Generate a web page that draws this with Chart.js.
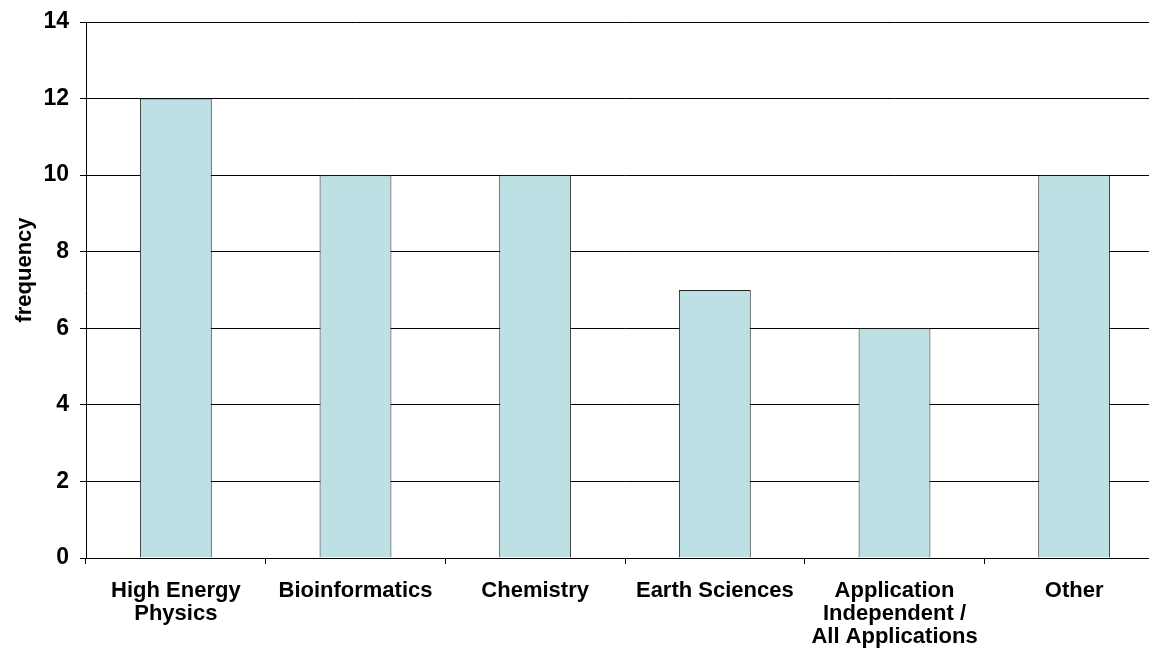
<!DOCTYPE html>
<html>
<head>
<meta charset="utf-8">
<script src="https://cdn.jsdelivr.net/npm/chart.js@4"></script>
<style>
  html, body { margin: 0; padding: 0; background: #fff; overflow: hidden; }
  #wrap { width: 1149px; height: 655px; overflow: hidden; }
</style>
</head>
<body>
<div id="wrap"><canvas id="chart" width="1180" height="655"></canvas></div>
<script>
"use strict";

const categories = [
  ["High Energy", "Physics"],
  "Bioinformatics",
  "Chemistry",
  "Earth Sciences",
  ["Application", "Independent /", "All Applications"],
  "Other"
];
const frequency = [12, 10, 10, 7, 6, 10];
const yTicks = [0, 2, 4, 6, 8, 10, 12, 14];
const yTitle = 'frequency';

const fontFamily = 'Liberation Sans, Arial, sans-serif';

// the y title sits a little above the middle of the axis in the original
const yTitlePlugin = {
  id: 'yTitle',
  afterDraw(chart) {
    const c = chart.ctx;
    c.save();
    c.translate(25, 270);
    c.rotate(-Math.PI / 2);
    c.font = 'bold 22px ' + fontFamily;
    c.fillStyle = '#000';
    c.textAlign = 'center';
    c.textBaseline = 'middle';
    c.fillText(yTitle, 0, 0);
    c.restore();
  }
};

const ctx = document.getElementById('chart');

new Chart(ctx, {
  type: 'bar',
  data: {
    labels: categories,
    datasets: [{
      label: yTitle,
      data: frequency,
      backgroundColor: '#BCE0E3',
      borderColor: '#222',
      borderWidth: 1,
      barPercentage: 0.40,
      categoryPercentage: 1.0
    }]
  },
  plugins: [yTitlePlugin],
  options: {
    responsive: false,
    animation: false,
    layout: { padding: { top: 22, right: 16, left: 0, bottom: 0 } },
    plugins: {
      legend: { display: false },
      tooltip: { enabled: false }
    },
    scales: {
      x: {
        offset: true,
        grid: {
          offset: true,
          drawOnChartArea: false,
          drawTicks: true,
          tickLength: 6,
          color: '#000'
        },
        border: { color: '#000', width: 1 },
        ticks: {
          color: '#000',
          font: { family: fontFamily, size: 22, weight: 'bold', lineHeight: 1.05 },
          maxRotation: 0,
          autoSkip: false,
          padding: 15
        },
        afterFit: (scale) => { scale.height = 97; }
      },
      y: {
        min: 0,
        max: 14,
        afterBuildTicks: (scale) => { scale.ticks = yTicks.map(v => ({ value: v })); },
        grid: {
          color: '#000',
          tickLength: 6,
          drawTicks: true
        },
        border: { color: '#000', width: 1 },
        ticks: {
          color: '#000',
          font: { family: fontFamily, size: 23, weight: 'bold', lineHeight: 1 },
          padding: 11
        },
        afterFit: (scale) => {
          scale.width = 86;
          scale.paddingTop = 0;
          scale.paddingBottom = 0;
        }
      }
    }
  }
});
</script>
</body>
</html>
